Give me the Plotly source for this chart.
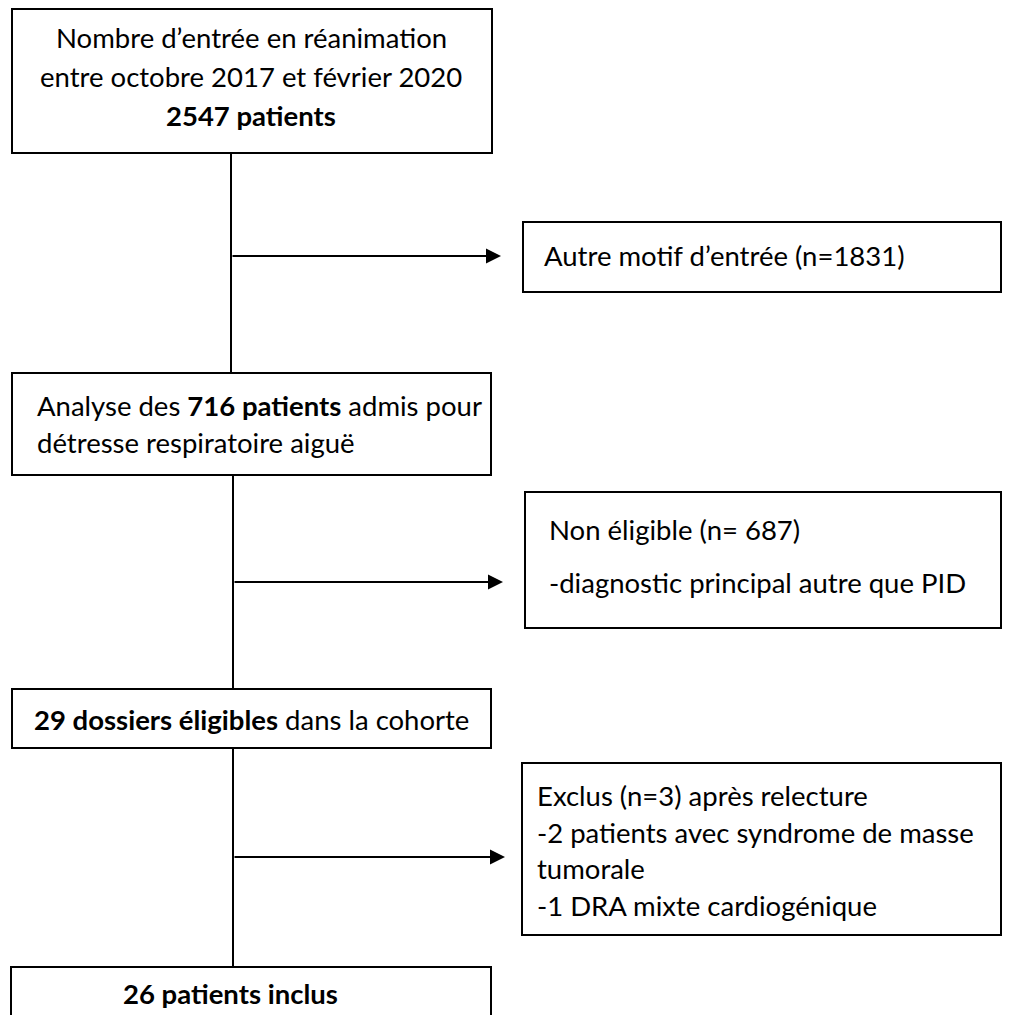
import plotly.graph_objects as go

# ---- data: flowchart counts and texts ----
total_admissions = 2547
other_reason = 1831
respiratory_distress = 716
not_eligible = 687
eligible = 29
excluded = 3
excluded_tumor = 2
excluded_cardio = 1
included = 26

box_main_texts = [
    "Nombre d’entrée en réanimation<br>entre octobre 2017 et février 2020<br><b>%d patients</b>" % total_admissions,
    "Analyse des <b>%d patients</b> admis pour" % respiratory_distress,
    "détresse respiratoire aiguë",
    "<b>%d dossiers éligibles</b> dans la cohorte" % eligible,
    "<b>%d patients inclus</b>" % included,
]
side_texts = [
    "Autre motif d’entrée (n=%d)" % other_reason,
    "Non éligible (n= %d)" % not_eligible,
    "-diagnostic principal autre que PID",
    "Exclus (n=%d) après relecture" % excluded,
    "-%d patients avec syndrome de masse" % excluded_tumor,
    "tumorale",
    "-%d DRA mixte cardiogénique" % excluded_cardio,
]

# ---- layout geometry (pixels) ----
W, H = 1011, 1023
OFF = 8  # default page body margin
FONT = "Lato"
FS = 27.5
LW = 2
COL = "#000000"

boxes = [
    (12, 9, 492, 153),
    (12, 373, 491, 475),
    (12, 689, 491, 748),
    (11, 967, 491, 1040),
    (523, 222, 1001, 292),
    (525, 492, 1001, 628),
    (522, 763, 1001, 935),
]
verticals = [(231, 153, 373), (233, 475, 689), (233, 748, 967)]
arrows = [(231, 256, 501), (233, 582, 503), (233, 857, 505)]

fig = go.Figure()
shapes = []
for x0, y0, x1, y1 in boxes:
    shapes.append(dict(type="rect", x0=x0, y0=y0, x1=x1, y1=y1, xref="x", yref="y",
                       line=dict(color=COL, width=LW), fillcolor="rgba(0,0,0,0)"))
for x, y0, y1 in verticals:
    shapes.append(dict(type="line", x0=x, y0=y0, x1=x, y1=y1, xref="x", yref="y",
                       line=dict(color=COL, width=LW)))

annotations = []
for x0, y, x1 in arrows:
    annotations.append(dict(x=x1, y=y, ax=x0, ay=y, xref="x", yref="y", axref="x", ayref="y",
                            text="", showarrow=True, arrowhead=2, arrowsize=1.5,
                            arrowwidth=LW, arrowcolor=COL, standoff=0, startstandoff=0))

def txt(x, y, s, anchor="left"):
    annotations.append(dict(x=x, y=y, xref="x", yref="y", text=s, showarrow=False,
                            xanchor=anchor, yanchor="middle", align="center" if anchor == "center" else "left",
                            font=dict(family=FONT, size=FS, color=COL)))

# box 1: three centered lines
for i, line in enumerate(box_main_texts[0].split("<br>")):
    txt(251, [37, 76, 115][i], line, "center")
txt(35, 405, box_main_texts[1])
txt(35, 442, box_main_texts[2])
txt(32, 719, box_main_texts[3])
txt(230, 993, box_main_texts[4], "center")

txt(542, 255, side_texts[0])
txt(547, 529, side_texts[1])
txt(547, 582, side_texts[2])
for i, yv in enumerate([795, 832, 868, 905]):
    txt(535, yv, side_texts[3 + i])

fig.update_layout(
    width=W - OFF, height=H - 2 * OFF, margin=dict(l=0, r=0, t=0, b=0),
    paper_bgcolor="white", plot_bgcolor="white",
    xaxis=dict(range=[OFF, W], visible=False, fixedrange=True),
    yaxis=dict(range=[H - OFF, OFF], visible=False, fixedrange=True),
    shapes=shapes, annotations=annotations, showlegend=False,
)
fig.write_html("out.html", config={"displayModeBar": False})
